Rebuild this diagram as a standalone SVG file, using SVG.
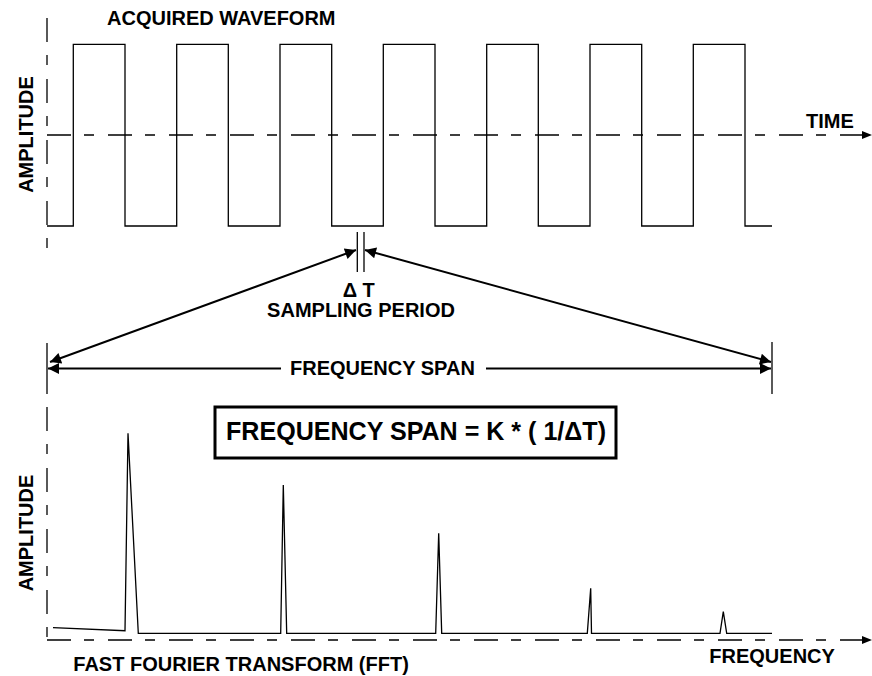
<svg xmlns="http://www.w3.org/2000/svg" width="872" height="676" viewBox="0 0 872 676">
<style>
text{font-family:"Liberation Sans",Arial,sans-serif;font-weight:bold;fill:#000}
.lbl{font-size:20px}
.axis{stroke:#000;stroke-width:1.3;fill:none;stroke-dasharray:24 13 10 14}
.wave{stroke:#000;stroke-width:1.3;fill:none}
.arr{stroke:#000;stroke-width:2;fill:none}
.tick{stroke:#000;stroke-width:1.3}
</style>
<defs>
<marker id="big" viewBox="0 0 10 10" refX="10" refY="5" markerWidth="14" markerHeight="11" orient="auto-start-reverse" markerUnits="userSpaceOnUse">
<path d="M0,0 L10,5 L0,10 Z" fill="#000"/>
</marker>
</defs>
<rect width="872" height="676" fill="#fff"/>
<g id="time-axes">
<line class="axis" x1="47" y1="18" x2="47" y2="248"/>
<line class="axis" x1="47" y1="135" x2="866" y2="135"/>
<path d="M862,131 L872,135 L862,139 Z" fill="#000"/>
</g>
<g id="waveform">
<path class="wave" d="M47,226 H73.3 V44.3 H125 V226 H176.7 V44.3 H228.3 V226 H280 V44.3 H331.7 V226 H383.3 V44.3 H435 V226 H486.7 V44.3 H538.3 V226 H590 V44.3 H641.7 V226 H693.3 V44.3 H745 V226 H772"/>
</g>
<g id="labels-top">
<text class="lbl" x="107" y="25">ACQUIRED WAVEFORM</text>
<text class="lbl" x="806" y="128.3">TIME</text>
<text class="lbl" transform="translate(33,134.5) rotate(-90)" text-anchor="middle">AMPLITUDE</text>
</g>
<g id="delta-t">
<line class="tick" x1="357.3" y1="232" x2="357.3" y2="272"/>
<line class="tick" x1="364" y1="232" x2="364" y2="272"/>
<text class="lbl" x="342.7" y="296.7">Δ T</text>
<text class="lbl" x="361" y="317.3" text-anchor="middle">SAMPLING PERIOD</text>
</g>
<g id="span-markers">
<line class="tick" x1="47" y1="343" x2="47" y2="394"/>
<line class="tick" x1="772" y1="342" x2="772" y2="394"/>
</g>
<g id="connectors">
<line class="arr" x1="50" y1="362" x2="356" y2="250" marker-start="url(#big)" marker-end="url(#big)"/>
<line class="arr" x1="365" y1="250" x2="771" y2="362" marker-start="url(#big)" marker-end="url(#big)"/>
<line class="arr" x1="48" y1="368.5" x2="281" y2="368.5" marker-start="url(#big)"/>
<line class="arr" x1="486" y1="368.5" x2="771" y2="368.5" marker-end="url(#big)"/>
</g>
<g id="span-label">
<text class="lbl" x="290" y="375">FREQUENCY SPAN</text>
</g>
<g id="formula">
<rect x="215" y="407" width="401" height="51" fill="none" stroke="#000" stroke-width="3"/>
<text x="226" y="440" font-size="25" textLength="380" lengthAdjust="spacingAndGlyphs">FREQUENCY SPAN = K * ( 1/ΔT)</text>
</g>
<g id="freq-axes">
<line class="axis" x1="47" y1="407" x2="47" y2="640"/>
<line class="axis" x1="47" y1="640" x2="866" y2="640"/>
<path d="M862,636 L872,640 L862,644 Z" fill="#000"/>
</g>
<g id="spectrum">
<path class="wave" d="M53,627.7 L125,630.7 L128,433.3 L138.3,633.3 H280.7 L283.3,485 L286.7,633.3 H435.7 L438.7,533.3 L441.7,633.3 H587.3 L590.7,588.3 L591.5,633.3 H720 L723.3,611.7 L726.7,633.3 H772"/>
</g>
<g id="labels-bottom">
<text class="lbl" transform="translate(33,533) rotate(-90)" text-anchor="middle">AMPLITUDE</text>
<text class="lbl" x="73.3" y="671">FAST FOURIER TRANSFORM (FFT)</text>
<text class="lbl" x="709.3" y="663.3">FREQUENCY</text>
</g>
</svg>
